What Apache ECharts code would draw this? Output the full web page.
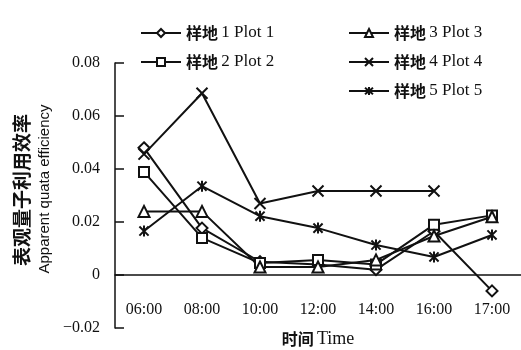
<!DOCTYPE html>
<html><head><meta charset="utf-8">
<script src="https://cdn.jsdelivr.net/npm/echarts@6/dist/echarts.min.js"></script>
<style>html,body{margin:0;padding:0;background:#fff}#c{width:521px;height:350px}</style>
</head><body><div id="c"></div>
<script>
const categories = ['06:00', '08:00', '10:00', '12:00', '14:00', '16:00', '17:00'];
const plot1 = [0.048, 0.0177, 0.005, 0.004, 0.002, 0.0165, -0.006];
const plot2 = [0.0389, 0.014, 0.0045, 0.0057, 0.004, 0.019, 0.0225];
const plot3 = [0.024, 0.024, 0.003, 0.003, 0.0057, 0.0147, 0.022];
const plot4 = [0.0456, 0.0686, 0.027, 0.0317, 0.0317, 0.0317, null];
const plot5 = [0.0166, 0.0335, 0.0222, 0.0177, 0.0113, 0.0068, 0.0151];
const seriesNames = ['样地 1 Plot 1', '样地 2 Plot 2', '样地 3 Plot 3', '样地 4 Plot 4', '样地 5 Plot 5'];
const yMin = -0.02, yMax = 0.08, yStep = 0.02;

const serif = "'Liberation Serif', 'Times New Roman', serif";
const cjk = "'Noto Sans CJK SC', sans-serif";
const symbols = [
  'diamond', 'rect', 'triangle',
  'path://M0,0L10,10M10,0L0,10',
  'path://M0,0L10,10M10,0L0,10M5,-1L5,11'
];
const sizes = [11, 10, 11, 11, 11];
const allData = [plot1, plot2, plot3, plot4, plot5];

const richText = {
  c: { fontFamily: cjk, fontWeight: 'bold', fontSize: 16, color: '#111' },
  l: { fontFamily: serif, fontSize: 17, color: '#111' }
};
function legendFmt(name) {
  const i = name.indexOf(' ');
  return '{c|' + name.slice(0, i) + '} {l|' + name.slice(i + 1) + '}';
}

const chart = echarts.init(document.getElementById('c'), null, { renderer: 'canvas' });
chart.setOption({
  backgroundColor: '#fff',
  animation: false,
  grid: { left: 115, right: 0, top: 63, bottom: 22, containLabel: false, outerBoundsMode: 'none' },
  legend: [
    { data: seriesNames.slice(0, 2), left: 135, top: 19, orient: 'vertical', itemGap: 11,
      itemWidth: 40, itemHeight: 10, formatter: legendFmt,
      textStyle: { rich: richText, lineHeight: 18 } },
    { data: seriesNames.slice(2), left: 343, top: 19, orient: 'vertical', itemGap: 11,
      itemWidth: 40, itemHeight: 10, formatter: legendFmt,
      textStyle: { rich: richText, lineHeight: 18 } }
  ],
  xAxis: {
    type: 'category', data: categories, boundaryGap: true,
    axisLine: { onZero: true, lineStyle: { color: '#111', width: 1.5 } },
    axisTick: { inside: true, length: 6, lineStyle: { color: '#111', width: 1.5 } },
    axisLabel: { margin: -26, fontFamily: serif, fontSize: 16, color: '#111' },
    splitLine: { show: false },
    name: '{c|时间} {l|Time}', nameLocation: 'middle', nameGap: 2,
    nameTextStyle: { rich: {
      c: { fontFamily: cjk, fontWeight: 'bold', fontSize: 16, color: '#111' },
      l: { fontFamily: serif, fontSize: 18, color: '#111' } } }
  },
  yAxis: {
    type: 'value', min: yMin, max: yMax, interval: yStep,
    axisLine: { show: true, onZero: false, lineStyle: { color: '#111', width: 1.5 } },
    axisTick: { show: true, inside: true, length: 9, lineStyle: { color: '#111', width: 1.5 } },
    axisLabel: { margin: 15, fontFamily: serif, fontSize: 16, color: '#111',
      formatter: v => Math.abs(v) < 1e-9 ? '0' : (v < 0 ? '\u2212' + Math.abs(v).toFixed(2) : v.toFixed(2)) },
    splitLine: { show: false }
  },
  graphic: [
    { type: 'text', x: 22, y: 190, rotation: Math.PI / 2,
      style: { text: '表观量子利用效率', font: 'bold 19px ' + cjk, fill: '#111',
        textAlign: 'center', textVerticalAlign: 'middle' } },
    { type: 'text', x: 45, y: 189, rotation: Math.PI / 2,
      style: { text: 'Apparent quata efficiency', font: "15px 'Liberation Sans', Arial, sans-serif", fill: '#111',
        textAlign: 'center', textVerticalAlign: 'middle' } }
  ],
  series: allData.map((d, i) => ({
    name: seriesNames[i], type: 'line', data: d,
    symbol: symbols[i], symbolSize: sizes[i], symbolKeepAspect: true,
    showAllSymbol: true, connectNulls: false,
    lineStyle: { color: '#111', width: 2 },
    itemStyle: { color: i >= 3 ? '#111' : '#fff', borderColor: '#111', borderWidth: 2 },
    emphasis: { disabled: true }
  }))
});
</script></body></html>
